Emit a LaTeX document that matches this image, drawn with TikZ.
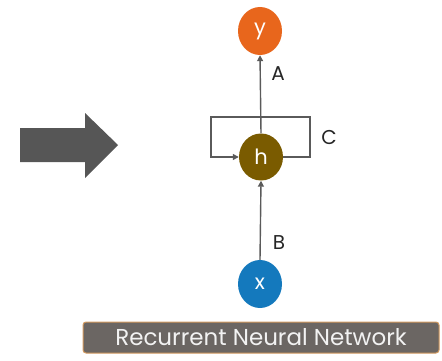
\documentclass[tikz,border=0pt]{standalone}
\usepackage{fontspec}
\setmainfont{Poppins}
\usetikzlibrary{arrows.meta,shapes.geometric}
\definecolor{outorange}{HTML}{E8661C}
\definecolor{hidbrown}{HTML}{7A5B00}
\definecolor{inblue}{HTML}{1479BD}
\definecolor{linegray}{HTML}{5A5A5A}
\definecolor{bannergray}{HTML}{6B6663}
\definecolor{bannerrim}{HTML}{D39A5F}
\definecolor{bigarrow}{HTML}{565656}
\begin{document}
\begin{tikzpicture}[x=1pt,y=-1pt,
  unit/.style={ellipse,minimum width=44pt,minimum height=48pt,inner sep=0pt,
    text=white,font=\fontsize{21}{21}\selectfont},
  link/.style={draw=linegray,line width=1.4pt,-{Triangle[length=6pt,width=6pt]}},
  tag/.style={font=\fontsize{20}{20}\selectfont,text=black!85}]
\useasboundingbox (0,0) rectangle (442,361);
% nodes of the unrolled-to-loop network
\node[unit,fill=outorange] (y) at (260,31) {y};
\node[unit,fill=hidbrown,minimum height=47pt] (h) at (261,157) {h};
\node[unit,fill=inblue] (x) at (260,284) {x};
% forward connections
\draw[link] (x.north) -- (h.south);
\draw[link] (h.north) -- (y.south);
% recurrent self-loop
\coordinate (r) at (310,157);
\draw[link] (h.east) -- (r) |- (211,117) |- (h.west);
% weight labels
\node[tag] (la) at (278,74) {A};
\node[tag] (lb) at (279,243) {B};
\node[tag] (lc) at (329,137) {C};
% big block arrow
\fill[bigarrow] (20,128) -- (85,128) -- (85,113) -- (118,145) -- (85,178) -- (85,162) -- (20,162) -- cycle;
% caption banner
\node[draw=bannerrim,fill=bannergray,line width=1pt,rounded corners=3pt,
  minimum width=356pt,minimum height=31pt,text=white!95!black,
  font=\fontsize{23}{23}\selectfont] (cap) at (261,337.5) {Recurrent Neural Network};
\end{tikzpicture}
\end{document}
